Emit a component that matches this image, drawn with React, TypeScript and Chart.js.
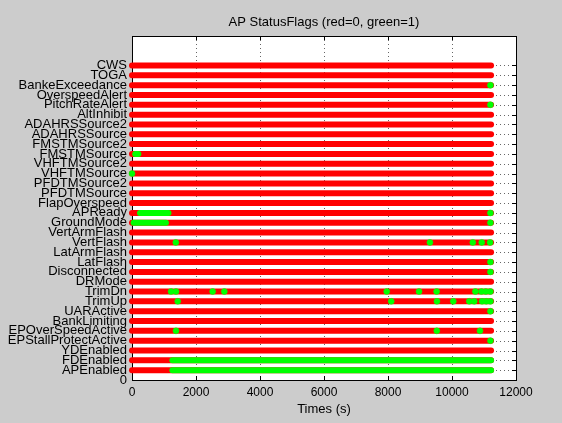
import React, { useEffect, useRef } from "react";
import { Chart, registerables } from "chart.js";

Chart.register(...registerables);

// Row labels from bottom (y = 0) to top (y = 32)
const FLAG_LABELS: string[] = [
  "0",
  "APEnabled",
  "FDEnabled",
  "YDEnabled",
  "EPStallProtectActive",
  "EPOverSpeedActive",
  "BankLimiting",
  "UARActive",
  "TrimUp",
  "TrimDn",
  "DRMode",
  "Disconnected",
  "LatFlash",
  "LatArmFlash",
  "VertFlash",
  "VertArmFlash",
  "GroundMode",
  "APReady",
  "FlapOverspeed",
  "PFDTMSource",
  "PFDTMSource2",
  "VHFTMSource",
  "VHFTMSource2",
  "FMSTMSource",
  "FMSTMSource2",
  "ADAHRSSource",
  "ADAHRSSource2",
  "AltInhibit",
  "PitchRateAlert",
  "OverspeedAlert",
  "BankeExceedance",
  "TOGA",
  "CWS",
];

const X_TICKS: number[] = [0, 2000, 4000, 6000, 8000, 10000, 12000];
const RECORD_START = 0;
const RECORD_END = 11220;

// Intervals (s) where a flag is 1 (green)
const GREEN_SEGMENTS: [string, number, number][] = [
  ["FMSTMSource", 100, 200],
  ["APReady", 250, 1140],
  ["GroundMode", 50, 1060],
  ["FDEnabled", 1260, 11220],
  ["APEnabled", 1260, 11220],
];

// Isolated samples (s) where a flag is 1 (green)
const GREEN_POINTS: [string, number[]][] = [
  ["VHFTMSource", [0]],
  ["BankeExceedance", [11200]],
  ["PitchRateAlert", [11200]],
  ["APReady", [11200]],
  ["GroundMode", [11200]],
  ["VertFlash", [1370, 9310, 10650, 10930, 11190]],
  ["LatFlash", [11200]],
  ["Disconnected", [11200]],
  ["TrimDn", [1220, 1375, 2520, 2885, 7960, 8970, 9520, 10730, 10920, 11055, 11200]],
  ["TrimUp", [1430, 8100, 9530, 10040, 10540, 10695, 10940, 11070, 11200]],
  ["UARActive", [11200]],
  ["EPOverSpeedActive", [1375, 9525, 10875]],
  ["EPStallProtectActive", [11200]],
];

const RED = "#ff0000";
const GREEN = "#00ff00";
const FONT = "'Liberation Sans', Arial, sans-serif";

const framePlugin = {
  id: "frame",
  beforeDraw(chart: any) {
    const { ctx, chartArea: a } = chart;
    ctx.save();
    ctx.fillStyle = "#ffffff";
    ctx.fillRect(a.left, a.top, a.right - a.left, a.bottom - a.top);
    ctx.restore();
  },
  beforeDatasetsDraw(chart: any) {
    const { ctx, chartArea: a, scales } = chart;
    const xs = scales.x;
    const ys = scales.y;
    ctx.save();
    ctx.lineWidth = 1;
    // dotted grid
    ctx.strokeStyle = "rgba(0,0,0,0.6)";
    ctx.setLineDash([1, 3]);
    X_TICKS.forEach((v) => {
      if (v === X_TICKS[0] || v === X_TICKS[X_TICKS.length - 1]) return;
      const px = Math.round(xs.getPixelForValue(v)) + 0.5;
      ctx.beginPath();
      ctx.moveTo(px, a.top);
      ctx.lineTo(px, a.bottom);
      ctx.stroke();
    });
    for (let i = 1; i < FLAG_LABELS.length; i++) {
      const py = Math.round(ys.getPixelForValue(i)) + 0.5;
      ctx.beginPath();
      ctx.moveTo(a.left, py);
      ctx.lineTo(a.right, py);
      ctx.stroke();
    }
    ctx.setLineDash([]);
    // inner ticks
    ctx.strokeStyle = "#000";
    X_TICKS.forEach((v) => {
      const px = Math.round(xs.getPixelForValue(v)) + 0.5;
      ctx.beginPath();
      ctx.moveTo(px, a.bottom);
      ctx.lineTo(px, a.bottom - 4);
      ctx.moveTo(px, a.top);
      ctx.lineTo(px, a.top + 4);
      ctx.stroke();
    });
    for (let i = 0; i < FLAG_LABELS.length; i++) {
      const py = Math.round(ys.getPixelForValue(i)) + 0.5;
      ctx.beginPath();
      ctx.moveTo(a.left, py);
      ctx.lineTo(a.left + 4, py);
      ctx.moveTo(a.right, py);
      ctx.lineTo(a.right - 4, py);
      ctx.stroke();
    }
    // box
    ctx.strokeRect(
      Math.round(a.left) + 0.5,
      Math.round(a.top) + 0.5,
      Math.round(a.right - a.left),
      Math.round(a.bottom - a.top)
    );
    ctx.restore();
  },
  afterDraw(chart: any) {
    const { ctx, chartArea: a } = chart;
    ctx.save();
    ctx.fillStyle = "#000";
    ctx.font = `13px ${FONT}`;
    ctx.textAlign = "center";
    ctx.textBaseline = "middle";
    ctx.fillText("AP StatusFlags (red=0, green=1)", (a.left + a.right) / 2, 22);
    ctx.restore();
  },
};

export default function App() {
  const canvasRef = useRef<HTMLCanvasElement | null>(null);

  useEffect(() => {
    if (!canvasRef.current) return;
    const datasets: any[] = [];

    // green isolated samples (drawn on top)
    GREEN_POINTS.forEach(([name, xs]) => {
      const y = FLAG_LABELS.indexOf(name);
      datasets.push({
        label: name + " =1",
        data: xs.map((x) => ({ x, y })),
        showLine: false,
        pointRadius: 3,
        pointStyle: "circle",
        pointBackgroundColor: GREEN,
        pointBorderColor: GREEN,
        pointBorderWidth: 0.5,
        order: 1,
        clip: false,
      });
    });

    // green intervals
    GREEN_SEGMENTS.forEach(([name, x0, x1]) => {
      const y = FLAG_LABELS.indexOf(name);
      datasets.push({
        label: name + " =1 span",
        data: [
          { x: x0, y },
          { x: x1, y },
        ],
        showLine: true,
        borderColor: GREEN,
        borderWidth: 6,
        borderCapStyle: "round",
        pointRadius: 0,
        order: 2,
        clip: false,
      });
    });

    // red baseline for each flag
    for (let i = 1; i < FLAG_LABELS.length; i++) {
      datasets.push({
        label: FLAG_LABELS[i],
        data: [
          { x: RECORD_START, y: i },
          { x: RECORD_END, y: i },
        ],
        showLine: true,
        borderColor: RED,
        borderWidth: 6,
        borderCapStyle: "round",
        pointRadius: 0,
        order: 3,
        clip: false,
      });
    }

    const chart = new Chart(canvasRef.current, {
      type: "scatter",
      data: { datasets },
      plugins: [framePlugin],
      options: {
        animation: false,
        responsive: false,
        devicePixelRatio: 1,
        events: [],
        layout: { padding: { left: 0, top: 36, right: 46, bottom: 0 } },
        plugins: {
          legend: { display: false },
          tooltip: { enabled: false },
          title: { display: false },
        },
        scales: {
          x: {
            type: "linear",
            min: 0,
            max: 12000,
            grid: { display: false, drawTicks: false },
            border: { display: false },
            afterBuildTicks: (scale: any) => {
              scale.ticks = X_TICKS.map((v) => ({ value: v }));
            },
            afterFit: (scale: any) => {
              scale.height = 43;
            },
            ticks: {
              color: "#000",
              font: { family: FONT, size: 12 },
              padding: 5,
              maxRotation: 0,
              autoSkip: false,
              callback: (v: any) => String(v),
            },
            title: {
              display: true,
              text: "Times (s)",
              color: "#000",
              font: { family: FONT, size: 13 },
              padding: { top: 0, bottom: 6 },
            },
          },
          y: {
            type: "linear",
            min: 0,
            max: 35,
            grid: { display: false, drawTicks: false },
            border: { display: false },
            afterBuildTicks: (scale: any) => {
              scale.ticks = FLAG_LABELS.map((_, i) => ({ value: i }));
            },
            afterFit: (scale: any) => {
              scale.width = 132;
            },
            ticks: {
              color: "#000",
              font: { family: FONT, size: 13 },
              padding: 5,
              autoSkip: false,
              callback: (v: any) => FLAG_LABELS[v as number] ?? "",
            },
          },
        },
      } as any,
    });
    return () => chart.destroy();
  }, []);

  return (
    <div
      style={{
        position: "absolute",
        left: 0,
        top: 0,
        width: 562,
        height: 423,
        background: "#cccccc",
      }}
    >
      <canvas
        ref={canvasRef}
        width={562}
        height={423}
        style={{ display: "block", width: 562, height: 423 }}
      />
    </div>
  );
}
